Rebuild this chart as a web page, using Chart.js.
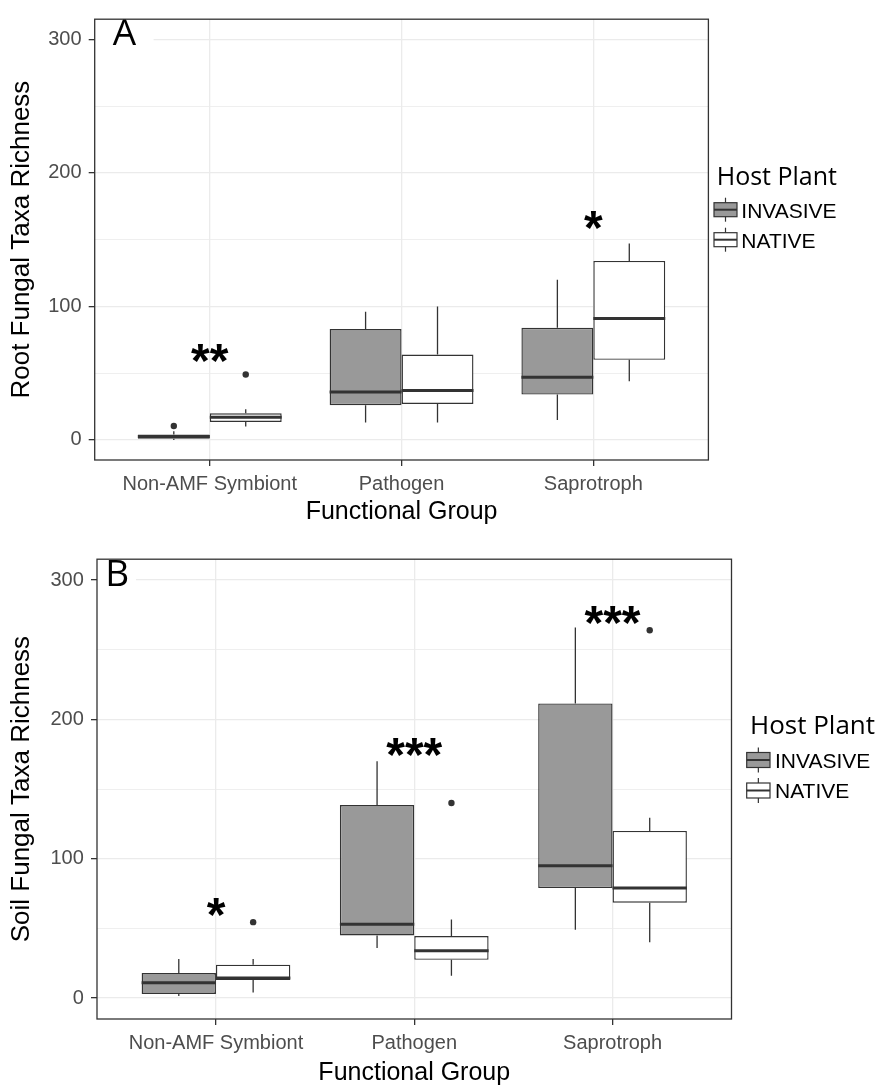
<!DOCTYPE html>
<html>
<head>
<meta charset="utf-8">
<title>Fungal taxa richness by functional group</title>
<script src="https://cdn.jsdelivr.net/npm/chart.js@4.4.1/dist/chart.umd.min.js"></script>
<style>
  html, body { margin: 0; padding: 0; background: #fff; }
  body { width: 880px; height: 1089px; position: relative; overflow: hidden; }
  .panel { position: absolute; left: 0; width: 880px; }
  #panelA { top: 0; height: 540px; }
  #panelB { top: 540px; height: 549px; }
</style>
</head>
<body>
<div class="panel" id="panelA"><canvas id="rootChart"></canvas></div>
<div class="panel" id="panelB"><canvas id="soilChart"></canvas></div>
<script>
const categories = ["Non-AMF Symbiont", "Pathogen", "Saprotroph"];
const hostPlants = ["INVASIVE", "NATIVE"];
const yTickValues = [0, 50, 100, 150, 200, 250, 300];
const yLabelValues = [0, 100, 200, 300];

// Panel A - root fungal taxa richness
const rootInvasiveMin = [0, 13, 15];
const rootInvasiveQ1 = [1, 26, 34];
const rootInvasiveMedian = [2.5, 36, 47];
const rootInvasiveQ3 = [4, 83, 84];
const rootInvasiveMax = [6.5, 96, 120];
const rootInvasiveOutliers = [[10.5], [], []];
const rootNativeMin = [10, 13, 44];
const rootNativeQ1 = [13.5, 27, 60];
const rootNativeMedian = [17, 37, 91];
const rootNativeQ3 = [20, 64, 134];
const rootNativeMax = [23, 100, 147];
const rootNativeOutliers = [[49], [], []];
const rootStars = ["**", "", "*"];
const rootStarHeights = [65, null, 165];

// Panel B - soil fungal taxa richness
const soilInvasiveMin = [1.5, 36, 49];
const soilInvasiveQ1 = [3, 45, 79];
const soilInvasiveMedian = [11, 53, 95];
const soilInvasiveQ3 = [18, 138.5, 211.5];
const soilInvasiveMax = [28, 170, 266];
const soilInvasiveOutliers = [[], [], []];
const soilNativeMin = [4, 16, 40];
const soilNativeQ1 = [13, 27.5, 68.5];
const soilNativeMedian = [14.5, 34, 79];
const soilNativeQ3 = [24, 44.5, 120];
const soilNativeMax = [28, 56.5, 129.5];
const soilNativeOutliers = [[54.5], [140], [264]];
const soilStars = ["*", "***", "***"];
const soilStarHeights = [65.5, 180, 275];

const GRID = "#ebebeb";
const DARK = "#333333";
const AXIS_TEXT = "#4d4d4d";
const hostFill = ["#999999", "#ffffff"];

Chart.defaults.font.family = "'Liberation Sans', Arial, sans-serif";

const panels = {
  rootChart: {
    letter: "A",
    yTitle: "Root Fungal Taxa Richness",
    boxes: [
      { min: rootInvasiveMin, q1: rootInvasiveQ1, med: rootInvasiveMedian, q3: rootInvasiveQ3, max: rootInvasiveMax, out: rootInvasiveOutliers },
      { min: rootNativeMin, q1: rootNativeQ1, med: rootNativeMedian, q3: rootNativeQ3, max: rootNativeMax, out: rootNativeOutliers }
    ],
    stars: rootStars,
    starY: rootStarHeights,
    pad: { top: 8.3, right: 171.6 },
    yWidth: 94.7,
    xHeight: 80,
    xTickPad: 6.1,
    xTitlePad: 12.7,
    letterAt: [112.7, 19],
    letterMaskRight: 153.6,
    legend: { titleX: 716.7, titleY: 185, titleSize: 25, keyX: 714, keyW: 23, keyH: 14, keyY: [209.7, 239.7], textX: 741.3, textY: [218, 247.7] }
  },
  soilChart: {
    letter: "B",
    yTitle: "Soil Fungal Taxa Richness",
    boxes: [
      { min: soilInvasiveMin, q1: soilInvasiveQ1, med: soilInvasiveMedian, q3: soilInvasiveQ3, max: soilInvasiveMax, out: soilInvasiveOutliers },
      { min: soilNativeMin, q1: soilNativeQ1, med: soilNativeMedian, q3: soilNativeQ3, max: soilNativeMax, out: soilNativeOutliers }
    ],
    stars: soilStars,
    starY: soilStarHeights,
    pad: { top: 12.7, right: 148.5 },
    yWidth: 97,
    xHeight: 70,
    xTickPad: 6.1,
    xTitlePad: 0.7,
    letterAt: [108.3, 20],
    letterMaskRight: 136,
    legend: { titleX: 750, titleY: 194.3, titleSize: 26, keyX: 746.7, keyW: 23.3, keyH: 15, keyY: [220, 250.5], textX: 775, textY: [228.3, 258.3] }
  }
};

// draw text so that its ink box starts at (left, top)
function inkText(ctx, text, left, top) {
  const m = ctx.measureText(text);
  ctx.textAlign = "left";
  ctx.textBaseline = "alphabetic";
  ctx.fillText(text, left + m.actualBoundingBoxLeft, top + m.actualBoundingBoxAscent);
}

// draw text centred on its ink at (cx, cy)
function centredText(ctx, text, cx, cy) {
  const m = ctx.measureText(text);
  ctx.textAlign = "center";
  ctx.textBaseline = "alphabetic";
  ctx.fillText(text, cx, cy + (m.actualBoundingBoxAscent - m.actualBoundingBoxDescent) / 2);
}

const boxExtras = {
  id: "boxExtras",
  beforeDatasetsDraw(chart) {
    const p = panels[chart.canvas.id];
    const { ctx, chartArea: a } = chart;
    const y = chart.scales.y;
    ctx.save();
    // white box behind the panel letter
    ctx.fillStyle = "#ffffff";
    ctx.fillRect(a.left, a.top, p.letterMaskRight - a.left, 44);
    ctx.fillStyle = "#000000";
    ctx.font = "37px 'Open Sans'";
    inkText(ctx, p.letter, p.letterAt[0], p.letterAt[1]);

    // whiskers
    ctx.strokeStyle = DARK;
    ctx.lineWidth = 1.3;
    hostPlants.forEach((host, d) => {
      const b = p.boxes[d];
      chart.getDatasetMeta(d).data.forEach((bar, i) => {
        ctx.beginPath();
        ctx.moveTo(bar.x, y.getPixelForValue(b.q3[i]));
        ctx.lineTo(bar.x, y.getPixelForValue(b.max[i]));
        ctx.moveTo(bar.x, y.getPixelForValue(b.q1[i]));
        ctx.lineTo(bar.x, y.getPixelForValue(b.min[i]));
        ctx.stroke();
      });
    });
    ctx.restore();
  },
  afterDatasetsDraw(chart) {
    const p = panels[chart.canvas.id];
    const { ctx } = chart;
    const x = chart.scales.x;
    const y = chart.scales.y;
    ctx.save();
    hostPlants.forEach((host, d) => {
      const b = p.boxes[d];
      chart.getDatasetMeta(d).data.forEach((bar, i) => {
        // median
        const my = y.getPixelForValue(b.med[i]);
        ctx.strokeStyle = DARK;
        ctx.lineWidth = 3;
        ctx.beginPath();
        ctx.moveTo(bar.x - bar.width / 2, my);
        ctx.lineTo(bar.x + bar.width / 2, my);
        ctx.stroke();
        // outliers
        ctx.fillStyle = DARK;
        b.out[i].forEach(v => {
          ctx.beginPath();
          ctx.arc(bar.x, y.getPixelForValue(v), 3.2, 0, Math.PI * 2);
          ctx.fill();
        });
      });
    });
    // significance stars
    ctx.fillStyle = "#000000";
    ctx.font = "bold 48px 'Liberation Sans'";
    p.stars.forEach((s, i) => {
      if (!s) return;
      centredText(ctx, s, x.getPixelForValue(i), y.getPixelForValue(p.starY[i]));
    });
    ctx.restore();
  },
  afterDraw(chart) {
    const p = panels[chart.canvas.id];
    const { ctx, chartArea: a } = chart;
    const L = p.legend;
    ctx.save();
    // panel border
    ctx.strokeStyle = DARK;
    ctx.lineWidth = 1.3;
    ctx.strokeRect(a.left, a.top, a.right - a.left, a.bottom - a.top);

    // legend
    ctx.fillStyle = "#000000";
    ctx.font = L.titleSize + "px 'Open Sans'";
    ctx.textAlign = "left";
    ctx.textBaseline = "alphabetic";
    ctx.fillText("Host Plant", L.titleX, L.titleY);
    hostPlants.forEach((host, d) => {
      const cy = L.keyY[d];
      const cx = L.keyX + L.keyW / 2;
      ctx.strokeStyle = DARK;
      ctx.lineWidth = 1.2;
      ctx.beginPath();
      ctx.moveTo(cx, cy - L.keyH / 2 - 5);
      ctx.lineTo(cx, cy + L.keyH / 2 + 5);
      ctx.stroke();
      ctx.fillStyle = hostFill[d];
      ctx.fillRect(L.keyX, cy - L.keyH / 2, L.keyW, L.keyH);
      ctx.strokeRect(L.keyX, cy - L.keyH / 2, L.keyW, L.keyH);
      ctx.lineWidth = 2;
      ctx.beginPath();
      ctx.moveTo(L.keyX, cy);
      ctx.lineTo(L.keyX + L.keyW, cy);
      ctx.stroke();
      ctx.fillStyle = "#000000";
      ctx.font = "21px 'Liberation Sans'";
      ctx.fillText(host, L.textX, L.textY[d]);
    });
    ctx.restore();
  }
};

function buildChart(id) {
  const p = panels[id];
  return new Chart(document.getElementById(id), {
    type: "bar",
    data: {
      datasets: hostPlants.map((host, h) => ({
        label: host,
        data: categories.map((c, i) => ({ x: i, y: [p.boxes[h].q1[i], p.boxes[h].q3[i]] })),
        backgroundColor: hostFill[h],
        borderColor: DARK,
        borderWidth: 1.4,
        borderSkipped: false,
        inflateAmount: 0,
        categoryPercentage: 0.75,
        barPercentage: 1
      }))
    },
    options: {
      responsive: true,
      maintainAspectRatio: false,
      animation: false,
      events: [],
      layout: { padding: { left: 0, top: p.pad.top, right: p.pad.right, bottom: 0 } },
      plugins: { legend: { display: false }, tooltip: { enabled: false } },
      scales: {
        x: {
          type: "linear",
          min: -0.6,
          max: 2.6,
          offset: false,
          afterBuildTicks: s => { s.ticks = categories.map((c, i) => ({ value: i })); },
          afterFit: s => { s.height = p.xHeight; },
          grid: { color: GRID, lineWidth: 1.3, offset: false, tickLength: 6, tickColor: DARK, tickWidth: 1.3 },
          border: { display: false },
          ticks: {
            autoSkip: false,
            maxRotation: 0,
            padding: p.xTickPad,
            color: AXIS_TEXT,
            font: { size: 20 },
            callback: v => categories[v]
          },
          title: { display: true, text: "Functional Group", color: "#000000", font: { size: 25 }, padding: { top: 0, bottom: p.xTitlePad } }
        },
        y: {
          type: "linear",
          min: -15,
          max: 315,
          afterBuildTicks: s => { s.ticks = yTickValues.map(v => ({ value: v })); },
          afterFit: s => { s.width = p.yWidth; },
          grid: {
            color: GRID,
            lineWidth: c => (c.tick && c.tick.value % 100 === 0 ? 1.3 : 0.8),
            tickLength: 6,
            tickColor: c => (c.tick && c.tick.value % 100 === 0 ? DARK : "rgba(0,0,0,0)"),
            tickWidth: 1.3
          },
          border: { display: false },
          ticks: {
            autoSkip: false,
            padding: 7.2,
            color: AXIS_TEXT,
            font: { size: 20 },
            callback: v => (yLabelValues.includes(v) ? String(v) : "")
          },
          title: { display: true, text: p.yTitle, color: "#000000", font: { size: 26 }, padding: { top: 5.9, bottom: 0 } }
        }
      }
    },
    plugins: [boxExtras]
  });
}

buildChart("rootChart");
buildChart("soilChart");
</script>
</body>
</html>
